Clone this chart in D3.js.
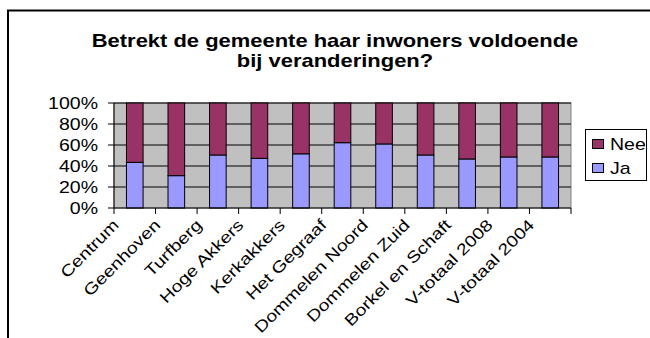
<!DOCTYPE html>
<html>
<head>
<meta charset="utf-8">
<script src="https://cdn.jsdelivr.net/npm/d3@7"></script>
<style>
  html, body { margin: 0; padding: 0; background: #fff; }
  svg { display: block; }
  text { font-family: Arial, "Liberation Sans", sans-serif; fill: #000; }
</style>
</head>
<body>
<svg id="chart" width="650" height="338"></svg>
<script>
// Wijken en totalen
const categories = ["Centrum", "Geenhoven", "Turfberg", "Hoge Akkers", "Kerkakkers",
  "Het Gegraaf", "Dommelen Noord", "Dommelen Zuid", "Borkel en Schaft",
  "V-totaal 2008", "V-totaal 2004"];
// Percentage "Ja" en "Nee" per wijk
const ja  = [43.5, 30.8, 50.5, 47.3, 51.6, 62.2, 61.0, 50.5, 46.7, 48.6, 48.6];
const nee = [56.5, 69.2, 49.5, 52.7, 48.4, 37.8, 39.0, 49.5, 53.3, 51.4, 51.4];
const yTicks = [0, 0.2, 0.4, 0.6, 0.8, 1.0];
const titleLines = ["Betrekt de gemeente haar inwoners voldoende", "bij veranderingen?"];

const colors = { Ja: "#9999FF", Nee: "#993366" };
const stretch = 1.22;

const svg = d3.select("#chart");
svg.append("rect").attr("width", 650).attr("height", 338).attr("fill", "#fff");

// chart frame
svg.append("rect")
  .attr("x", 8).attr("y", 10.5).attr("width", 700).attr("height", 400)
  .attr("fill", "none").attr("stroke", "#000").attr("stroke-width", 2);

// title
const title = svg.append("g");
titleLines.forEach((line, i) => {
  title.append("text")
    .attr("transform", `translate(335,${47 + i * 20}) scale(${stretch},1)`)
    .attr("text-anchor", "middle")
    .attr("font-size", 18).attr("font-weight", "bold")
    .text(line);
});

const plot = { left: 114, right: 571, top: 103, bottom: 208 };

const x = d3.scaleBand().domain(categories).range([plot.left, plot.right]);
const y = d3.scaleLinear().domain([0, 1]).range([plot.bottom, plot.top]);

// plot area
svg.append("rect")
  .attr("x", plot.left).attr("y", plot.top)
  .attr("width", plot.right - plot.left).attr("height", plot.bottom - plot.top)
  .attr("fill", "#C0C0C0").attr("stroke", "#808080").attr("stroke-width", 1);

// gridlines
svg.append("g").selectAll("line").data(yTicks.filter(d => d > 0)).join("line")
  .attr("x1", plot.left).attr("x2", plot.right)
  .attr("y1", d => y(d)).attr("y2", d => y(d))
  .attr("stroke", "#000").attr("stroke-width", 1);

// stacked bars
const rows = categories.map((c, i) => ({ cat: c, Ja: ja[i], Nee: nee[i] }));
const stack = d3.stack().keys(["Ja", "Nee"]).offset(d3.stackOffsetExpand);
const series = stack(rows);
const barW = x.bandwidth() * 0.4;

svg.append("g").selectAll("g").data(series).join("g")
  .attr("fill", d => colors[d.key])
  .selectAll("rect").data(d => d).join("rect")
  .attr("x", d => x(d.data.cat) + (x.bandwidth() - barW) / 2)
  .attr("width", barW)
  .attr("y", d => y(d[1]))
  .attr("height", d => y(d[0]) - y(d[1]))
  .attr("stroke", "#000").attr("stroke-width", 1);

// y axis
const yAxis = svg.append("g");
yAxis.append("line")
  .attr("x1", plot.left).attr("x2", plot.left)
  .attr("y1", plot.top).attr("y2", plot.bottom)
  .attr("stroke", "#000");
yTicks.forEach(t => {
  yAxis.append("line")
    .attr("x1", plot.left - 6).attr("x2", plot.left)
    .attr("y1", y(t)).attr("y2", y(t)).attr("stroke", "#000");
  yAxis.append("text")
    .attr("transform", `translate(98,${y(t) + 5.5}) scale(${stretch},1)`)
    .attr("text-anchor", "end").attr("font-size", 16)
    .text(d3.format(".0%")(t));
});

// x axis
const xAxis = svg.append("g");
xAxis.append("line")
  .attr("x1", plot.left).attr("x2", plot.right)
  .attr("y1", plot.bottom).attr("y2", plot.bottom)
  .attr("stroke", "#000");
const boundaries = categories.map(c => x(c)).concat([plot.right]);
boundaries.forEach(b => {
  xAxis.append("line")
    .attr("x1", b).attr("x2", b)
    .attr("y1", plot.bottom).attr("y2", plot.bottom + 6).attr("stroke", "#000");
});
categories.forEach(c => {
  const cx = x(c) + x.bandwidth() / 2;
  xAxis.append("text")
    .attr("transform", `translate(${cx - 15},226) rotate(-45) scale(${stretch},1)`)
    .attr("text-anchor", "end").attr("font-size", 16)
    .text(c);
});

// legend
const legend = svg.append("g");
legend.append("rect")
  .attr("x", 585.5).attr("y", 129.5).attr("width", 61).attr("height", 51)
  .attr("fill", "#fff").attr("stroke", "#000").attr("stroke-width", 1);
["Nee", "Ja"].forEach((k, i) => {
  legend.append("rect")
    .attr("x", 592.5).attr("y", 139.5 + i * 24).attr("width", 11).attr("height", 9)
    .attr("fill", colors[k]).attr("stroke", "#000").attr("stroke-width", 1);
  legend.append("text")
    .attr("transform", `translate(610,${149.5 + i * 24}) scale(${stretch},1)`)
    .attr("font-size", 16)
    .text(k);
});
</script>
</body>
</html>
